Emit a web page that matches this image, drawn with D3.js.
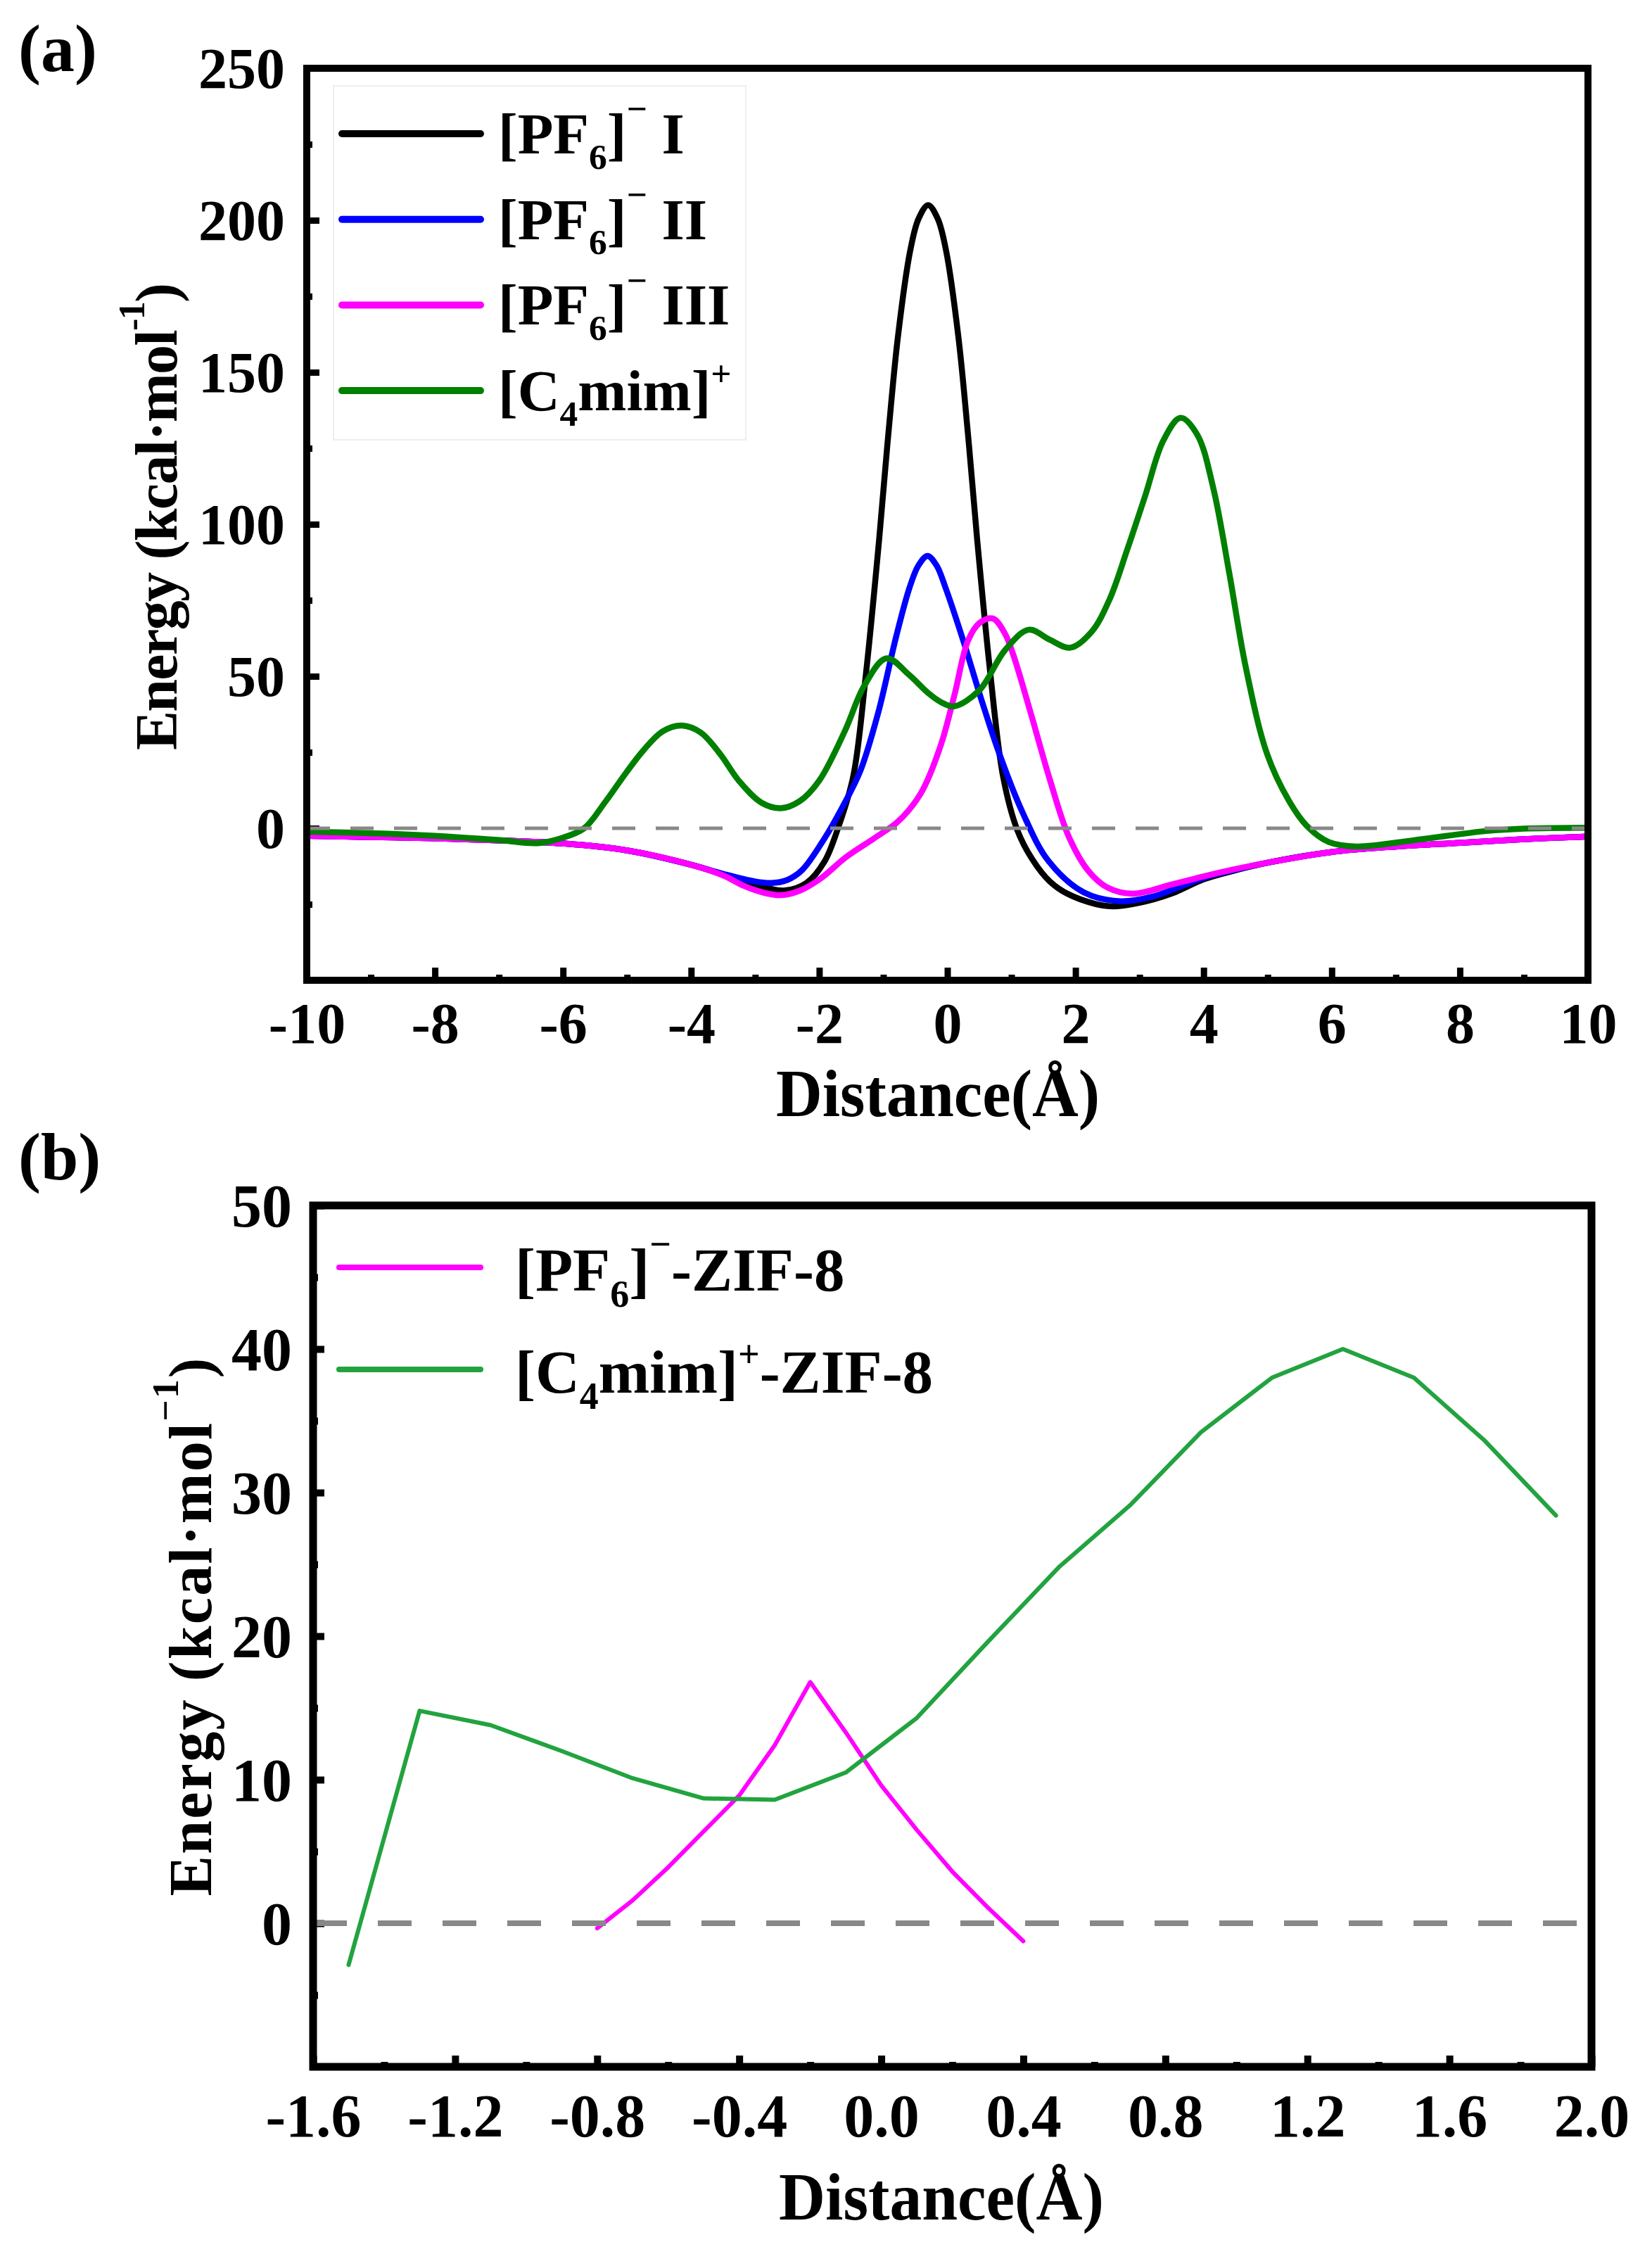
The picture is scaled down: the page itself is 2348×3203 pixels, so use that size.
<!DOCTYPE html>
<html><head><meta charset="utf-8">
<script src="https://cdn.jsdelivr.net/npm/d3@7"></script>
<style>html,body{margin:0;padding:0;background:#fff}</style>
</head><body>
<svg id="c" width="2348" height="3203" xmlns="http://www.w3.org/2000/svg"></svg>
<script>
// ---------------- DATA ----------------
// Panel (a): energy profiles, Distance (Å) vs Energy (kcal/mol)
const pf6_I = [[-10,-2.5],[-9,-2.9],[-8,-3.3],[-7,-4],[-6,-5],[-5,-7.3],[-4,-12],[-3.5,-15.2],[-3,-18.5],[-2.55,-20.5],[-2.2,-18],[-1.92,-11],[-1.7,0.5],[-1.47,17],[-1.27,51],[-1.065,95],[-0.92,130],[-0.77,162],[-0.58,190],[-0.45,200.5],[-0.3,205],[-0.15,200.5],[-0.02,190],[0.17,162],[0.32,130],[0.465,95],[0.67,51],[0.87,17],[1.09,-0.5],[1.32,-10],[1.6,-17.5],[1.9,-21.8],[2.5,-25.6],[3,-24.5],[3.5,-21.5],[4,-16.8],[4.5,-13.8],[5,-11.3],[6,-7.8],[7,-6],[8,-4.8],[9,-3.6],[10,-2.7]];
const pf6_II = [[-10,-2.5],[-9,-2.9],[-8,-3.3],[-7,-4],[-6,-5],[-5,-7.3],[-4,-12],[-3.5,-15],[-3,-17.5],[-2.75,-18],[-2.5,-17],[-2.27,-13.8],[-1.92,-3.4],[-1.64,6.9],[-1.36,18.8],[-1.08,38],[-0.8,63],[-0.59,79.2],[-0.45,86.5],[-0.31,89.6],[-0.17,86.5],[-0.03,79.2],[0.25,61.6],[0.53,42.4],[0.81,24.6],[1.17,5.4],[1.58,-10.8],[2.14,-21.2],[2.7,-24],[3.2,-22.5],[3.6,-19.5],[4,-16.3],[4.5,-13.6],[5,-11.3],[6,-7.8],[7,-6],[8,-4.8],[9,-3.6],[10,-2.7]];
const pf6_III = [[-10,-2.5],[-9,-2.9],[-8,-3.3],[-7,-4],[-6,-5],[-5,-7.3],[-4,-12],[-3.5,-15.5],[-3.18,-18.9],[-2.9,-21],[-2.6,-22],[-2.3,-20.5],[-1.99,-16.7],[-1.57,-9.3],[-1.15,-3.4],[-0.8,1.7],[-0.6,6],[-0.38,12.8],[-0.1,27.5],[0.11,43.8],[0.32,61.6],[0.5,67.5],[0.71,69],[0.9,64],[1.03,57],[1.3,38],[1.6,16],[1.9,-3],[2.2,-14],[2.5,-19.5],[2.9,-21.5],[3.5,-18.5],[4,-15.8],[4.5,-13.4],[5,-11.3],[6,-7.8],[7,-6],[8,-4.8],[9,-3.6],[10,-2.7]];
const c4mim = [[-10,-1.1],[-9,-1.6],[-8,-2.5],[-7,-3.9],[-6.4,-4.9],[-6.05,-3.4],[-5.67,0],[-5.35,8.4],[-5.0,18.7],[-4.75,25.5],[-4.45,31.8],[-4.15,33.8],[-3.85,31.5],[-3.55,24.5],[-3.25,15.5],[-2.9,8.4],[-2.6,6.6],[-2.3,9],[-2,15.7],[-1.6,32],[-1.3,46.8],[-0.95,55.9],[-0.6,50.5],[-0.3,44.5],[-0.1,41.5],[0.1,40.1],[0.5,45.4],[0.9,58.6],[1.27,65.3],[1.6,62],[1.92,59.4],[2.25,64.6],[2.53,75.2],[2.81,91.8],[3.09,109.5],[3.37,127.5],[3.64,135],[3.9,129.5],[4.15,112],[4.4,84],[4.66,52.8],[4.99,24.5],[5.33,9.1],[5.61,0.8],[5.95,-4.5],[6.39,-6],[7.29,-3.9],[8.41,-0.9],[9,-0.1],[10,0.2]];

// Panel (b): ZIF-8 profiles
const pf6_zif = [[-0.8,-0.35],[-0.7,1.6],[-0.6,3.9],[-0.5,6.4],[-0.4,8.9],[-0.3,12.4],[-0.2,16.8],[-0.1,13.3],[0,9.6],[0.1,6.5],[0.2,3.6],[0.3,1.1],[0.4,-1.25]];
const c4mim_zif = [[-1.5,-2.9],[-1.3,14.8],[-1.1,13.8],[-0.9,12.0],[-0.7,10.1],[-0.5,8.7],[-0.3,8.6],[-0.1,10.5],[0.1,14.3],[0.3,19.6],[0.5,24.8],[0.7,29.1],[0.9,34.2],[1.1,38.0],[1.3,40.0],[1.5,38.0],[1.7,33.6],[1.9,28.4]];

// Ticks
const xTicksA = [-10,-8,-6,-4,-2,0,2,4,6,8,10];
const xMinorA = [-9,-7,-5,-3,-1,1,3,5,7,9];
const yTicksA = [0,50,100,150,200,250];
const yMinorA = [-25,25,75,125,175,225];
const xTicksB = [-1.6,-1.2,-0.8,-0.4,0,0.4,0.8,1.2,1.6,2.0];
const xMinorB = [-1.4,-1.0,-0.6,-0.2,0.2,0.6,1.0,1.4,1.8];
const yTicksB = [0,10,20,30,40,50];
const yMinorB = [-5,5,15,25,35,45];

// Legend labels (rich text parts)
const legendA = [
  {color:"#000000", parts:[{t:"[PF"},{t:"6",s:"sub"},{t:"]"},{t:"\u2212",s:"sup"},{t:" I"}]},
  {color:"#0000ff", parts:[{t:"[PF"},{t:"6",s:"sub"},{t:"]"},{t:"\u2212",s:"sup"},{t:" II"}]},
  {color:"#ff00ff", parts:[{t:"[PF"},{t:"6",s:"sub"},{t:"]"},{t:"\u2212",s:"sup"},{t:" III"}]},
  {color:"#008000", parts:[{t:"[C"},{t:"4",s:"sub"},{t:"mim]"},{t:"+",s:"sup"}]}
];
const legendB = [
  {color:"#ff00ff", parts:[{t:"[PF"},{t:"6",s:"sub"},{t:"]"},{t:"\u2212",s:"sup"},{t:"-ZIF-8"}]},
  {color:"#22a33f", parts:[{t:"[C"},{t:"4",s:"sub"},{t:"mim]"},{t:"+",s:"sup"},{t:"-ZIF-8"}]}
];

// ---------------- DRAW ----------------
const FONT = "'Liberation Serif','Times New Roman',serif";
const svg = d3.select("#c");
svg.append("rect").attr("width",2348).attr("height",3203).attr("fill","#fff");

function richText(g, x, y, parts, size, opts={}) {
  const t = g.append("text").attr("x", x).attr("y", y)
    .attr("font-family", FONT).attr("font-weight","bold")
    .attr("font-size", size).attr("fill","#000");
  let cur = 0;
  parts.forEach(p => {
    let shift = 0, fs = size;
    if (p.s === "sub") { shift = size*0.26; fs = size*0.62; }
    if (p.s === "sup") { shift = -size*(p.t==="+"?0.42:0.55); fs = size*0.62; }
    t.append("tspan").attr("dy", shift - cur).attr("font-size", fs).text(p.t);
    cur = shift;
  });
  if (opts.textLength) t.attr("textLength", opts.textLength).attr("lengthAdjust", opts.adjust || "spacingAndGlyphs");
  return t;
}

function panel(cfg) {
  const g = svg.append("g");
  const {x, y} = cfg;
  const [x0,x1] = x.range(), [y0,y1] = y.range(); // y0 bottom, y1 top
  const bx = g.append("g").attr("transform",`translate(0,${y0})`)
    .call(d3.axisBottom(x).tickValues(cfg.xTicks).tickSize(-cfg.majLen).tickFormat(cfg.xFmt));
  const bxm = g.append("g").attr("transform",`translate(0,${y0})`)
    .call(d3.axisBottom(x).tickValues(cfg.xMinor).tickSize(-cfg.minLen).tickFormat(""));
  const ly = g.append("g").attr("transform",`translate(${x0},0)`)
    .call(d3.axisLeft(y).tickValues(cfg.yTicks).tickSize(-cfg.majLen).tickFormat(d=>String(d)));
  const lym = g.append("g").attr("transform",`translate(${x0},0)`)
    .call(d3.axisLeft(y).tickValues(cfg.yMinor).tickSize(-cfg.minLen).tickFormat(""));
  [bx,bxm,ly,lym].forEach(a => {
    a.select(".domain").remove();
    a.selectAll("line").attr("stroke","#000").attr("stroke-width",cfg.tickW);
  });
  bx.selectAll("text").attr("font-family",FONT).attr("font-weight","bold")
    .attr("font-size",cfg.tickFont).attr("fill","#000").attr("dy",null).attr("y",cfg.xLabelY);
  ly.selectAll("text").attr("font-family",FONT).attr("font-weight","bold")
    .attr("font-size",cfg.tickFont).attr("fill","#000").attr("x",-cfg.yLabelGap).attr("dy","0.34em");

  const line = d3.line().x(d=>x(d[0])).y(d=>y(d[1])).curve(cfg.curve);
  cfg.series.forEach(s => {
    g.append("path").datum(s.data).attr("d",line).attr("fill","none")
      .attr("stroke",s.color).attr("stroke-width",cfg.lineW)
      .attr("stroke-linejoin","round").attr("stroke-linecap","round");
  });
  g.append("line").attr("x1",x0).attr("x2",x1).attr("y1",y(0)).attr("y2",y(0))
    .attr("stroke","#888").attr("stroke-width",cfg.dashW).attr("stroke-dasharray",cfg.dash);
  g.append("rect").attr("x",x0).attr("y",y1).attr("width",x1-x0).attr("height",y0-y1)
    .attr("fill","none").attr("stroke","#000").attr("stroke-width",cfg.frameW);

  if (cfg.legendBox) {
    const b = cfg.legendBox;
    g.append("rect").attr("x",b[0]).attr("y",b[1]).attr("width",b[2]).attr("height",b[3])
      .attr("fill","none").attr("stroke","#eeeeee").attr("stroke-width",2);
  }
  cfg.legend.forEach((l,i) => {
    const ly_ = cfg.legY0 + i*cfg.legDy;
    g.append("line").attr("x1",cfg.legX0).attr("x2",cfg.legX1).attr("y1",ly_).attr("y2",ly_)
      .attr("stroke",l.color).attr("stroke-width",cfg.legLineW).attr("stroke-linecap","round");
    richText(g, cfg.legTextX, ly_ + cfg.legBaseOff, l.parts, cfg.legFont);
  });

  richText(g, cfg.xTitle.x, cfg.xTitle.y, [{t:"Distance(\u00C5)"}], cfg.xTitle.size,
    {textLength: cfg.xTitle.len}).attr("text-anchor","start");
  const yt = g.append("g").attr("transform",`translate(${cfg.yTitle.x},${cfg.yTitle.y}) rotate(-90)`);
  richText(yt, -cfg.yTitle.len/2, 0, cfg.yTitle.parts, cfg.yTitle.size,
    {textLength: cfg.yTitle.len, adjust:"spacing"});
  g.append("text").attr("x",cfg.tag.x).attr("y",cfg.tag.y).attr("font-family",FONT)
    .attr("font-weight","bold").attr("font-size",cfg.tag.size).text(cfg.tag.t);
}

// Panel (a)
const xA = d3.scaleLinear().domain([-10,10]).range([436,2257]);
const yA = d3.scaleLinear().domain([-50,250]).range([1393,97]);
panel({
  x:xA, y:yA, xTicks:xTicksA, xMinor:xMinorA, yTicks:yTicksA, yMinor:yMinorA,
  xFmt:d=>String(d), majLen:18, minLen:8, tickW:9, tickFont:82, xLabelY:89, yLabelGap:31,
  curve:d3.curveCatmullRom.alpha(0.5), lineW:8.5, dashW:5, dash:"33,29", frameW:10,
  series:[{data:pf6_I,color:"#000000"},{data:pf6_II,color:"#0000ff"},{data:pf6_III,color:"#ff00ff"},{data:c4mim,color:"#008000"}],
  legend:legendA, legendBox:[474,122,586,503], legX0:486, legX1:683, legY0:190, legDy:121.7, legLineW:10,
  legTextX:708, legBaseOff:28, legFont:83,
  xTitle:{x:1103, y:1586, size:96, len:460},
  yTitle:{x:251, y:734, size:84, len:664, parts:[{t:"Energy (kcal\u00B7mol"},{t:"-1",s:"sup"},{t:")"}]},
  tag:{x:26, y:101, size:96, t:"(a)"}
});

// Panel (b)
const xB = d3.scaleLinear().domain([-1.6,2.0]).range([445,2262]);
const yB = d3.scaleLinear().domain([-10,50]).range([2937,1713]);
panel({
  x:xB, y:yB, xTicks:xTicksB, xMinor:xMinorB, yTicks:yTicksB, yMinor:yMinorB,
  xFmt:d=>d.toFixed(1), majLen:16, minLen:7, tickW:10, tickFont:86, xLabelY:99, yLabelGap:30,
  curve:d3.curveLinear, lineW:6, dashW:8, dash:"48,44", frameW:11,
  series:[{data:pf6_zif,color:"#ff00ff"},{data:c4mim_zif,color:"#22a33f"}],
  legend:legendB, legendBox:null, legX0:482, legX1:683, legY0:1801, legDy:145, legLineW:8,
  legTextX:732, legBaseOff:33, legFont:87,
  xTitle:{x:1107, y:3154, size:96, len:462},
  yTitle:{x:300, y:2312, size:86, len:765, parts:[{t:"Energy (kcal\u00B7mol"},{t:"\u22121",s:"sup"},{t:")"}]},
  tag:{x:26, y:1676, size:96, t:"(b)"}
});
</script>
</body></html>
